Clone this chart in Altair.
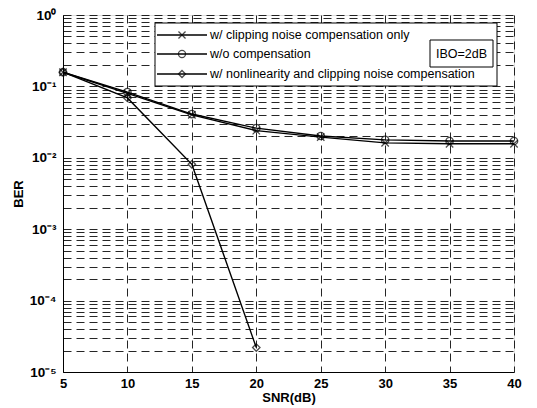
import altair as alt
import pandas as pd

# ---- data ----
snr = [5, 10, 15, 20, 25, 30, 35, 40]
ber_clip_only = [0.158, 0.080, 0.040, 0.024, 0.0195, 0.0162, 0.0157, 0.0157]
ber_no_comp = [0.158, 0.083, 0.041, 0.026, 0.0202, 0.0178, 0.0172, 0.0172]
snr_nl = [5, 10, 15, 20]
ber_nl_clip = [0.158, 0.069, 0.0081, 2.2e-5]

series_names = [
    "w/ clipping noise compensation only",
    "w/o compensation",
    "w/ nonlinearity and clipping noise compensation",
]
x_ticks = [5, 10, 15, 20, 25, 30, 35, 40]
y_major = [1e-5, 1e-4, 1e-3, 1e-2, 1e-1, 1.0]
y_major_labels = ["10⁻⁵", "10⁻⁴", "10⁻³", "10⁻²", "10⁻¹", "10⁰"]
annotation = "IBO=2dB"

rows = []
for s, b in zip(snr, ber_clip_only):
    rows.append({"snr": s, "ber": b, "series": series_names[0]})
for s, b in zip(snr, ber_no_comp):
    rows.append({"snr": s, "ber": b, "series": series_names[1]})
for s, b in zip(snr_nl, ber_nl_clip):
    rows.append({"snr": s, "ber": b, "series": series_names[2]})
df = pd.DataFrame(rows)

# grid values: every 1..9 x 10^k
y_grid = []
for k in range(-5, 0):
    for m in range(1, 10):
        y_grid.append(float(f"{m}e{k}"))
y_grid.append(1.0)

label_expr = "".join(
    f"datum.value == {v!r} ? '{lab}' : " for v, lab in zip(y_major, y_major_labels)
) + "''"

FONT = "Liberation Sans"
X_PATH = "M-1,-1L1,1M-1,1L1,-1"
shape_range = [X_PATH, "circle", "diamond"]

W, H = 451, 357

x_enc = alt.X(
    "snr:Q",
    scale=alt.Scale(domain=[5, 40], nice=False, zero=False),
    axis=alt.Axis(
        values=x_ticks, title="SNR(dB)", format="d", grid=True,
        gridDash=[8, 5], gridColor="black", gridOpacity=0.85, gridWidth=1,
        ticks=False, labelPadding=5, labelFontSize=13, labelFontWeight="bold",
        labelFont=FONT, titleFont=FONT, titleFontSize=13, titleFontWeight="bold",
        titlePadding=1, domainColor="black", labelColor="black", titleColor="black",
        labelFlush=False,
    ),
)
y_enc = alt.Y(
    "ber:Q",
    scale=alt.Scale(type="log", domain=[1e-5, 1], nice=False),
    axis=alt.Axis(
        values=y_grid, labelExpr=label_expr, title="BER", grid=True,
        gridDash=[8, 5], gridColor="black", gridOpacity=0.85, gridWidth=1,
        ticks=False, labelPadding=7, labelFontSize=13.5, labelFontWeight="bold",
        labelFont=FONT, titleFont=FONT, titleFontSize=13, titleFontWeight="bold",
        titlePadding=4, domainColor="black", labelColor="black", titleColor="black",
        labelFlush=False, labelOverlap=False,
    ),
)

lines = alt.Chart(df).mark_line(color="black", strokeWidth=1.4).encode(
    x=x_enc, y=y_enc, detail="series:N", order="snr:Q"
)
points = alt.Chart(df).mark_point(filled=False, color="black", strokeWidth=1.3, size=55).encode(
    x="snr:Q", y="ber:Q",
    shape=alt.Shape("series:N", scale=alt.Scale(domain=series_names, range=shape_range), legend=None),
)

one = pd.DataFrame({"k": [0]})
layers = [lines, points]

# legend box
layers.append(
    alt.Chart(one).mark_rect(fill="white", stroke="black", strokeWidth=1).encode(
        x=alt.value(92), x2=alt.value(434), y=alt.value(8), y2=alt.value(71)
    )
)
row_y = [20, 39, 59]
for name, shp, ry in zip(series_names, shape_range, row_y):
    layers.append(
        alt.Chart(one).mark_rule(color="black", strokeWidth=1.3).encode(
            x=alt.value(94), x2=alt.value(144), y=alt.value(ry)
        )
    )
    layers.append(
        alt.Chart(one).mark_point(shape=shp, filled=False, color="black", strokeWidth=1.3, size=50).encode(
            x=alt.value(119), y=alt.value(ry)
        )
    )
    layers.append(
        alt.Chart(one).mark_text(align="left", baseline="middle", font=FONT, fontSize=12.5, color="black").encode(
            x=alt.value(147), y=alt.value(ry), text=alt.value(name)
        )
    )
# annotation box
layers.append(
    alt.Chart(one).mark_rect(fill="white", stroke="black", strokeWidth=1).encode(
        x=alt.value(367), x2=alt.value(430), y=alt.value(25), y2=alt.value(52)
    )
)
layers.append(
    alt.Chart(one).mark_text(align="center", baseline="middle", font=FONT, fontSize=12.5, color="black").encode(
        x=alt.value(398.5), y=alt.value(38.5), text=alt.value(annotation)
    )
)

chart = alt.layer(*layers).properties(
    width=W, height=H,
    autosize=alt.AutoSizeParams(type="none"),
    padding={"left": 55, "top": 7, "right": 15, "bottom": 33},
).configure_view(stroke="black", strokeWidth=1).configure(background="white")

chart.save("out.html", embed_options={"renderer": "svg", "actions": False})
